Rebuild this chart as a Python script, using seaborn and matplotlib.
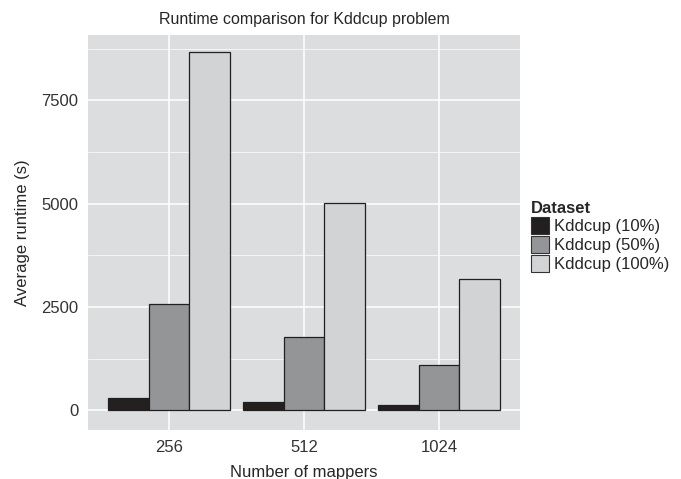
import seaborn as sns
import matplotlib.pyplot as plt
import pandas as pd
from matplotlib.patches import Patch

# datos
mappers = ["256", "512", "1024"]
datasets = ["Kddcup (10%)", "Kddcup (50%)", "Kddcup (100%)"]
rt_10 = [300, 200, 140]
rt_50 = [2570, 1770, 1100]
rt_100 = [8660, 5010, 3180]
colores = ["#231f20", "#939598", "#d1d3d4"]

df = pd.DataFrame({
    "mappers": mappers * 3,
    "dataset": [d for d in datasets for _ in mappers],
    "runtime": rt_10 + rt_50 + rt_100,
})

sns.set_style("white")
plt.rcParams["font.family"] = ["Liberation Sans", "DejaVu Sans"]

fig = plt.figure(figsize=(6.81, 4.79), dpi=100)
ax = fig.add_axes([0.129, 0.102, 0.635, 0.825])
ax.set_facecolor("#dcdddf")

sns.barplot(data=df, x="mappers", y="runtime", hue="dataset", order=mappers,
            hue_order=datasets, palette=colores, width=0.9, gap=0,
            edgecolor="#231f20", linewidth=0.9, ax=ax, legend=False, zorder=3)

ax.set_xlim(-0.6, 2.6)
ax.set_ylim(-480, 9080)
ax.set_yticks([0, 2500, 5000, 7500])
ax.set_yticks([1250, 3750, 6250, 8750], minor=True)
ax.grid(True, which="major", color="white", linewidth=1.1, zorder=0)
ax.grid(True, which="minor", axis="y", color="white", linewidth=0.5, zorder=0)
ax.set_axisbelow(True)
for s in ax.spines.values():
    s.set_visible(False)
ax.tick_params(axis="both", which="major", length=4, color="#444444",
               labelsize=12, labelcolor="#333333", pad=3)
ax.tick_params(axis="y", which="minor", length=0)

ax.set_title("Runtime comparison for Kddcup problem", fontsize=11.5, pad=8)
ax.set_xlabel("Number of mappers", fontsize=12, labelpad=7)
ax.set_ylabel("Average runtime (s)", fontsize=12, labelpad=8)

handles = [Patch(facecolor=c, edgecolor="#333333", linewidth=0.8) for c in colores]
leg = fig.legend(handles, datasets, title="Dataset", loc="upper left",
                 bbox_to_anchor=(0.77, 0.595), frameon=False, fontsize=12,
                 title_fontproperties={"weight": "bold", "size": 12},
                 handlelength=1.1, handleheight=1.2, handletextpad=0.3,
                 labelspacing=0.1, borderaxespad=0)
leg._legend_box.align = "left"

fig.savefig("out.png", dpi=100)
